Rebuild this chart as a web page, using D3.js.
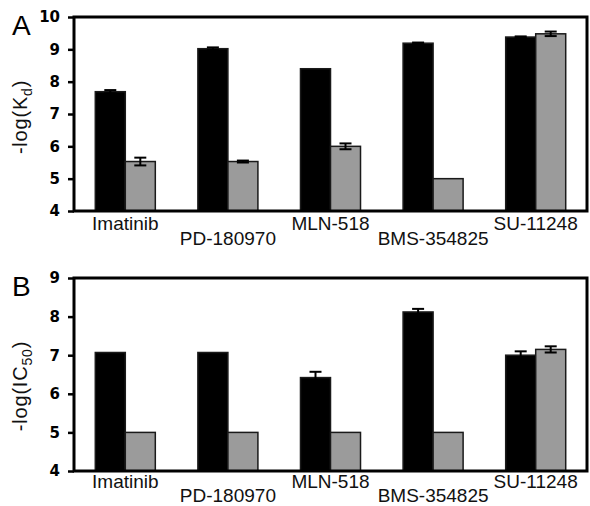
<!DOCTYPE html>
<html>
<head>
<meta charset="utf-8">
<script src="https://cdn.jsdelivr.net/npm/d3@7"></script>
<style>
  body { margin: 0; background: #fff; }
  svg { display: block; font-family: "Liberation Sans", Arial, sans-serif; }
  .tick text { font-family: "DejaVu Sans", sans-serif; font-weight: bold; }
</style>
</head>
<body>
<svg id="chart" width="590" height="506"></svg>
<script>
// drug names along the x axis
const DRUGS = ["Imatinib", "PD-180970", "MLN-518", "BMS-354825", "SU-11248"];
const SERIES = ["black", "gray"];

// panel A: -log(Kd)
const KD_BLACK = [7.69, 9.02, 8.40, 9.19, 9.38];
const KD_BLACK_ERR = [0.05, 0.04, 0.0, 0.02, 0.02];
const KD_GRAY = [5.53, 5.53, 6.00, 5.00, 9.48];
const KD_GRAY_ERR = [0.12, 0.03, 0.09, 0.0, 0.07];
const KD_TICKS = [4, 5, 6, 7, 8, 9, 10];

// panel B: -log(IC50)
const IC_BLACK = [7.07, 7.07, 6.42, 8.12, 7.00];
const IC_BLACK_ERR = [0.0, 0.0, 0.15, 0.08, 0.1];
const IC_GRAY = [5.0, 5.0, 5.0, 5.0, 7.15];
const IC_GRAY_ERR = [0.0, 0.0, 0.0, 0.0, 0.08];
const IC_TICKS = [4, 5, 6, 7, 8, 9];

const LEFT = 74;
const RIGHT = 587;
const FILL = { black: "#000", gray: "#9b9b9b" };

const svg = d3.select("#chart");

function buildRows(black, blackErr, gray, grayErr) {
    return DRUGS.map(function(name, i) {
        return {
            name: name,
            bars: [
                { key: "black", v: black[i], e: blackErr[i] },
                { key: "gray", v: gray[i], e: grayErr[i] }
            ]
        };
    });
}

function drawPanel(opts) {
    let rows = buildRows(opts.black, opts.blackErr, opts.gray, opts.grayErr);

    let x = d3.scaleBand()
        .domain(DRUGS)
        .range([LEFT, RIGHT])
        .paddingInner(0.415)
        .paddingOuter(0.2075);

    let xs = d3.scaleBand()
        .domain(SERIES)
        .range([0, x.bandwidth()]);

    let y = d3.scaleLinear()
        .domain([4, d3.max(opts.ticks)])
        .range([opts.bottom, opts.top]);

    let g = svg.append("g");

    // bars
    let groups = g.selectAll("g.grp")
        .data(rows)
        .enter()
        .append("g")
        .attr("class", "grp")
        .attr("transform", function(d) { return "translate(" + x(d.name) + ",0)"; });

    groups.selectAll("rect")
        .data(function(d) { return d.bars; })
        .enter()
        .append("rect")
        .attr("x", function(d) { return xs(d.key); })
        .attr("width", xs.bandwidth())
        .attr("y", function(d) { return y(d.v); })
        .attr("height", function(d) { return y(4) - y(d.v); })
        .style("fill", function(d) { return FILL[d.key]; })
        .style("stroke", "#1a1a1a")
        .style("stroke-width", 1.5);

    // error bars with caps on both ends
    let err = groups.selectAll("g.err")
        .data(function(d) { return d.bars.filter(function(b) { return b.e > 0; }); })
        .enter()
        .append("g")
        .attr("class", "err")
        .style("stroke", "#000")
        .style("stroke-width", 2);

    err.append("line")
        .attr("x1", function(d) { return xs(d.key) + xs.bandwidth() / 2; })
        .attr("x2", function(d) { return xs(d.key) + xs.bandwidth() / 2; })
        .attr("y1", function(d) { return y(d.v - d.e); })
        .attr("y2", function(d) { return y(d.v + d.e); });

    [1, -1].forEach(function(sgn) {
        err.append("line")
            .attr("x1", function(d) { return xs(d.key) + xs.bandwidth() / 2 - 6; })
            .attr("x2", function(d) { return xs(d.key) + xs.bandwidth() / 2 + 6; })
            .attr("y1", function(d) { return y(d.v + sgn * d.e); })
            .attr("y2", function(d) { return y(d.v + sgn * d.e); });
    });

    // frame
    g.append("rect")
        .attr("x", LEFT)
        .attr("y", opts.top)
        .attr("width", RIGHT - LEFT)
        .attr("height", opts.bottom - opts.top)
        .style("fill", "none")
        .style("stroke", "#000")
        .style("stroke-width", 3);

    // y axis
    let yAxis = g.append("g")
        .attr("transform", "translate(" + LEFT + ",0)")
        .call(d3.axisLeft(y).tickValues(opts.ticks).tickFormat(d3.format("d")).tickSize(6).tickPadding(8));
    yAxis.select(".domain").remove();
    yAxis.selectAll(".tick line").style("stroke-width", 2.5);
    yAxis.attr("font-family", null).attr("font-size", "15px");
    yAxis.selectAll(".tick text").style("fill", "#000");

    // x labels, staggered on two rows
    g.selectAll("text.xl")
        .data(DRUGS)
        .enter()
        .append("text")
        .attr("class", "xl")
        .text(function(d) { return d; })
        .attr("x", function(d) { return x(d) + x.bandwidth() / 2; })
        .attr("y", function(d, i) { return opts.bottom + (i % 2 === 0 ? opts.row[0] : opts.row[1]); })
        .attr("font-size", "19px")
        .attr("fill", "#111")
        .style("text-anchor", "middle");

    // y title
    let t = g.append("text")
        .attr("transform", "translate(27," + opts.titleY + ") rotate(-90)")
        .attr("font-size", "20px")
        .attr("letter-spacing", "0.8px")
        .attr("fill", "#111")
        .style("text-anchor", "middle");
    t.append("tspan").text(opts.title[0]);
    t.append("tspan").text(opts.title[1]).attr("font-size", "14px").attr("dy", 5);
    t.append("tspan").text(opts.title[2]).attr("dy", -5);

    // panel letter
    g.append("text")
        .text(opts.letter)
        .attr("x", 12)
        .attr("y", opts.top + 18)
        .attr("font-size", "28px")
        .attr("fill", "#000");
}

drawPanel({
    top: 17, bottom: 211, ticks: KD_TICKS, row: [19, 34],
    black: KD_BLACK, blackErr: KD_BLACK_ERR, gray: KD_GRAY, grayErr: KD_GRAY_ERR,
    title: ["-log(K", "d", ")"], titleY: 117, letter: "A"
});

drawPanel({
    top: 278, bottom: 471, ticks: IC_TICKS, row: [17, 31],
    black: IC_BLACK, blackErr: IC_BLACK_ERR, gray: IC_GRAY, grayErr: IC_GRAY_ERR,
    title: ["-log(IC", "50", ")"], titleY: 386, letter: "B"
});
</script>
</body>
</html>
